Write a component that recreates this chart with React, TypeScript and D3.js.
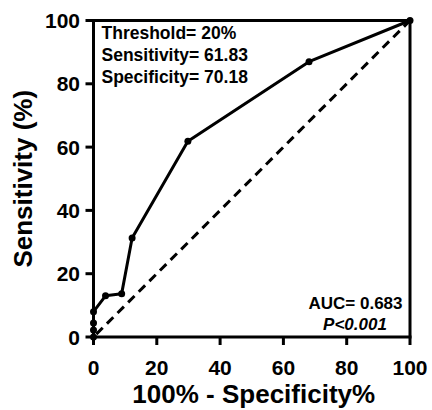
import React from "react";
import * as d3 from "d3";

const fpr = [0, 0, 0, 0, 3.8, 8.9, 12.2, 29.82, 68.1, 100];
const tpr = [0, 2.2, 4.4, 8, 13, 13.7, 31.3, 61.83, 87, 100];
const xTicks = [0, 20, 40, 60, 80, 100];
const yTicks = [0, 20, 40, 60, 80, 100];
const annotations = ["Threshold= 20%", "Sensitivity= 61.83", "Specificity= 70.18"];
const aucText = "AUC= 0.683";
const pText = "P<0.001";

const W = 432;
const H = 410;
const L = 93.5, R = 410, T = 20.5, B = 337;
const FONT = "'Liberation Sans', Arial, Helvetica, sans-serif";

export default function App() {
  const x = d3.scaleLinear().domain([0, 100]).range([L, R]);
  const y = d3.scaleLinear().domain([0, 100]).range([B, T]);
  const pts = fpr.map((v, i) => [v, tpr[i]] as [number, number]);
  const line = d3.line<[number, number]>().x((d) => x(d[0])).y((d) => y(d[1]));

  return (
    <svg width={W} height={H} style={{ position: "absolute", left: 0, top: 0, background: "#fff" }} fontFamily={FONT}>
      <rect width={W} height={H} fill="#fff" />
      {/* diagonal */}
      <line x1={x(0)} y1={y(0)} x2={x(100)} y2={y(100)} stroke="#000" strokeWidth={3} strokeDasharray="9,6" strokeDashoffset={-4} />
      {/* box */}
      <line x1={L} y1={T} x2={R} y2={T} stroke="#000" strokeWidth={3} />
      <line x1={R} y1={T} x2={R} y2={B} stroke="#000" strokeWidth={3} />
      <line x1={L} y1={B} x2={R + 1.5} y2={B} stroke="#000" strokeWidth={3} />
      <line x1={L} y1={T - 1.5} x2={L} y2={B + 1.5} stroke="#000" strokeWidth={3} />
      {/* ticks */}
      {xTicks.map((t) => (
        <g key={"x" + t}>
          <line x1={x(t)} x2={x(t)} y1={B} y2={B + 8} stroke="#000" strokeWidth={3} />
          <text x={x(t)} y={375} textAnchor="middle" fontSize={21} fontWeight="bold">{t}</text>
        </g>
      ))}
      {yTicks.map((t) => (
        <g key={"y" + t}>
          <line x1={L - 8} x2={L} y1={y(t)} y2={y(t)} stroke="#000" strokeWidth={3} />
          <text x={80} y={y(t) + 7.5} textAnchor="end" fontSize={21} fontWeight="bold">{t}</text>
        </g>
      ))}
      {/* ROC curve */}
      <path d={line(pts) || ""} fill="none" stroke="#000" strokeWidth={3} strokeLinejoin="round" />
      {pts.map((p, i) => (
        <circle key={i} cx={x(p[0])} cy={y(p[1])} r={3.5} fill="#000" />
      ))}
      {/* annotations */}
      {annotations.map((s, i) => (
        <text key={s} x={101.5} y={39.3 + i * 22} fontSize={17.5} fontWeight="bold">{s}</text>
      ))}
      <text x={355.5} y={309} textAnchor="middle" fontSize={17} fontWeight="bold">{aucText}</text>
      <text x={355} y={330} textAnchor="middle" fontSize={17} fontWeight="bold" fontStyle="italic">{pText}</text>
      {/* axis titles */}
      <text x={(L + R) / 2 + 2} y={403} textAnchor="middle" fontSize={26} fontWeight="bold">100% - Specificity%</text>
      <text transform={`translate(31.5, ${(T + B) / 2}) rotate(-90)`} textAnchor="middle" fontSize={26} fontWeight="bold">Sensitivity (%)</text>
    </svg>
  );
}
